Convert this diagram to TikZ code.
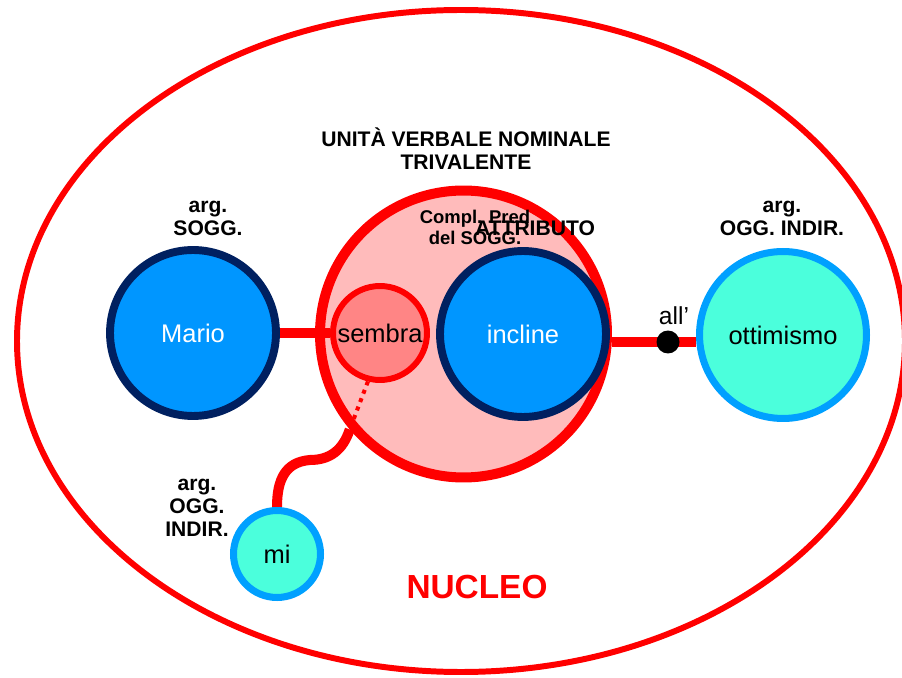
\documentclass[tikz,border=0pt]{standalone}
\usepackage{fontspec}
\setmainfont{Liberation Sans}
\usetikzlibrary{backgrounds}

\definecolor{nucred}{RGB}{255,0,0}
\definecolor{pinkfill}{RGB}{255,187,187}
\definecolor{sembrafill}{RGB}{255,133,133}
\definecolor{argblue}{RGB}{0,150,255}
\definecolor{navy}{RGB}{0,32,96}
\definecolor{skyline}{RGB}{0,160,255}
\definecolor{aqua}{RGB}{75,255,220}

\tikzset{
  verb/.style={circle,draw=navy,fill=argblue,line width=4.5pt,minimum size=3.32cm,inner sep=0pt,text=white,font=\fontsize{14.5}{16}\selectfont},
  argball/.style={circle,draw=skyline,fill=aqua,line width=4pt,inner sep=0pt,font=\fontsize{14.5}{16}\selectfont},
  link/.style={draw=nucred,line width=5.7pt},
  dotlink/.style={draw=nucred,line width=2.3pt,dash pattern=on 2.3pt off 2.8pt},
  tag/.style={align=center,font=\bfseries\fontsize{12}{13}\selectfont},
}

\begin{document}
\begin{tikzpicture}[x=0.02cm,y=-0.02cm]
\useasboundingbox (0,0) rectangle (902,678);

% nodes
\node[verb] (mario) at (193,333) {Mario};
\node[circle,draw=nucred,fill=sembrafill,line width=3.4pt,minimum size=1.88cm,inner sep=0pt,font=\fontsize{14.5}{16}\selectfont] (sembra) at (380,333) {sembra};
\node[verb] (incline) at (523,334) {incline};
\node[argball,minimum size=3.34cm] (ottimismo) at (783,335) {ottimismo};
\node[argball,minimum size=1.74cm] (mi) at (277,554) {mi};
\node[circle,fill=black,minimum size=0.46cm,inner sep=0pt] (dot) at (668,342) {};
\node[font=\fontsize{14}{16}\selectfont] (all) at (674,316) {all’};

% nucleo, unita verbale and connectors
\begin{scope}[on background layer]
\draw[nucred,line width=3.4pt] (461,341) ellipse (444 and 331);
\node[circle,draw=nucred,fill=pinkfill,line width=5.7pt,minimum size=5.74cm] (uvn) at (463.5,334) {};
\coordinate (bend) at (uvn.-140);
\draw[link] (mario) -- (sembra);
\draw[link] (uvn.east |- dot) -- (ottimismo.west |- dot);
\draw[dotlink] (sembra.-104) -- (bend);
\draw[link] (bend) .. controls (343,450) and (330,460) .. (310,460)
  .. controls (285,462) and (277,480) .. (mi.north);
\end{scope}

% labels
\node[text=nucred,font=\bfseries\fontsize{19}{21}\selectfont] (nucleo) at (477,587) {NUCLEO};
\node[tag] (uvnlabel) at (466,148.5) {UNITÀ VERBALE NOMINALE\\TRIVALENTE};
\node[tag] (sogg) at (208,218.5) {arg.\\SOGG.};
\node[tag] (oggind) at (782,218.5) {arg.\\OGG. INDIR.};
\node[tag] (oggmi) at (197,507.5) {arg.\\OGG.\\INDIR.};
\node[align=center,font=\bfseries\fontsize{10.5}{12}\selectfont] (compl) at (475,227.5) {Compl. Pred\\del SOGG.};
\node[tag] (attr) at (535,228) {ATTRIBUTO};
\end{tikzpicture}
\end{document}
